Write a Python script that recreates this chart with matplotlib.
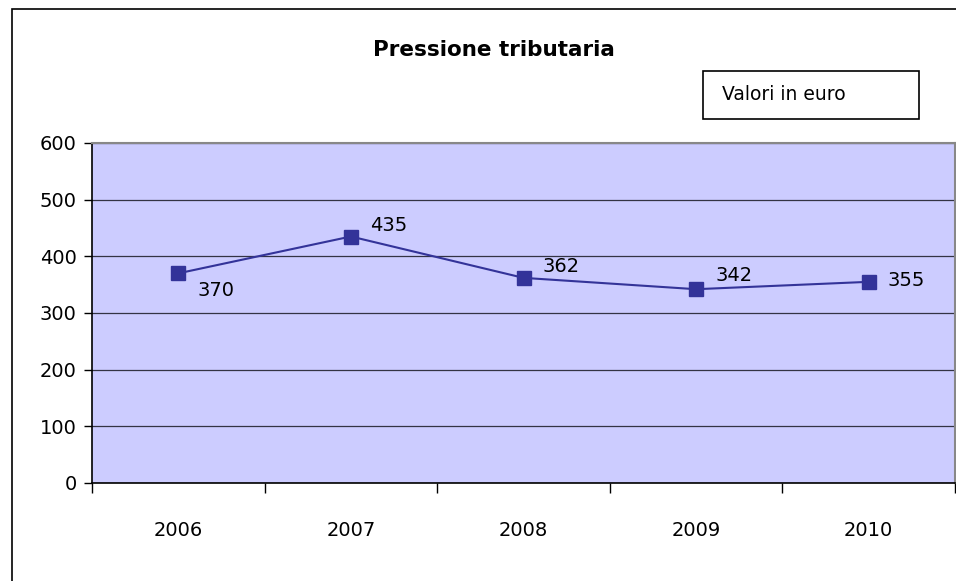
import matplotlib
matplotlib.use("Agg")
import matplotlib.pyplot as plt
from matplotlib.patches import Rectangle

# data
years = ["2006", "2007", "2008", "2009", "2010"]
values = [370, 435, 362, 342, 355]
# label offsets in points (dx, dy) relative to each marker
label_offsets = [(27, -12), (27, 8), (27, 8), (27, 10), (27, 1)]
yticks = [0, 100, 200, 300, 400, 500, 600]

W, H = 956, 581
fig = plt.figure(figsize=(W / 100, H / 100), dpi=100)
plt.rcParams["font.family"] = "DejaVu Sans"

# outer chart border (cropped on right / bottom, like the reference)
fig.patches.append(Rectangle((12 / W, -0.05), 1.0, 1 - 9 / H + 0.05,
                             transform=fig.transFigure, fill=False,
                             edgecolor="black", linewidth=1.2))

# plot area: x 92..955, y 143..483 (pixels)
ax = fig.add_axes([92 / W, 1 - 483 / H, (955 - 92) / W, (483 - 143) / H])
ax.set_facecolor("#CCCCFF")

x = list(range(len(years)))
ax.plot(x, values, color="#333399", linewidth=1.5, marker="s",
        markersize=9.5, markerfacecolor="#333399", markeredgecolor="#333399",
        zorder=3)
for xi, v, (dx, dy) in zip(x, values, label_offsets):
    ax.annotate(str(v), (xi, v), xytext=(dx, dy), textcoords="offset points",
                ha="center", va="center", fontsize=14)

ax.set_xlim(-0.5, len(years) - 0.5)
ax.set_ylim(0, 600)
ax.set_yticks(yticks)
ax.set_yticklabels([str(t) for t in yticks], fontsize=14)
ax.yaxis.grid(True, color="#333344", linewidth=0.9)
ax.set_axisbelow(True)

# category ticks sit between categories, labels in the centre
ax.set_xticks([i - 0.5 for i in range(len(years) + 1)])
ax.set_xticklabels([])
ax.set_xticks(x, minor=True)
ax.set_xticklabels(years, minor=True, fontsize=14)
ax.tick_params(axis="x", which="minor", length=0, pad=27)
ax.tick_params(axis="x", which="major", length=7, width=1, direction="out")
ax.tick_params(axis="y", length=6, width=1, direction="out", pad=5)

for side in ("top", "right"):
    ax.spines[side].set_color("#888888")
    ax.spines[side].set_linewidth(1.5)
for side in ("left", "bottom"):
    ax.spines[side].set_color("black")
    ax.spines[side].set_linewidth(1.2)

fig.text(494 / W, 1 - 50 / H, "Pressione tributaria", ha="center",
         va="center", fontsize=15.5, fontweight="bold")

# "Valori in euro" box
fig.patches.append(Rectangle((703 / W, 1 - 119 / H), 216 / W, 48 / H,
                             transform=fig.transFigure, fill=False,
                             edgecolor="black", linewidth=1.2))
fig.text(722 / W, 1 - 94 / H, "Valori in euro", ha="left", va="center",
         fontsize=13.5)

fig.savefig("out.png", dpi=100)
